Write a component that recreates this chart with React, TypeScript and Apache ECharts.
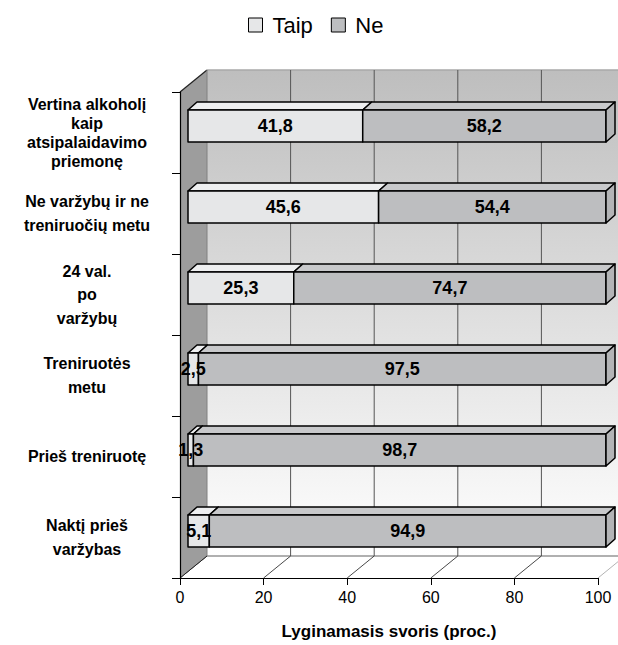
import React, { useEffect, useRef } from 'react';
import * as echarts from 'echarts';

const categories = [
  'Vertina alkoholį\nkaip\natsipalaidavimo\npriemonę',
  'Ne varžybų ir ne\ntreniruočių metu',
  '24 val.\npo\nvaržybų',
  'Treniruotės\nmetu',
  'Prieš treniruotę',
  'Naktį prieš\nvaržybas',
];
const taip = [41.8, 45.6, 25.3, 2.5, 1.3, 5.1];
const ne = [58.2, 54.4, 74.7, 97.5, 98.7, 94.9];
const xTicks = [0, 20, 40, 60, 80, 100];
const seriesNames = ['Taip', 'Ne'];
const axisTitle = 'Lyginamasis svoris (proc.)';

const FONT = '"Liberation Sans", Arial, sans-serif';
// 3D geometry (styling only)
const WDX = 27, WDY = 22; // wall depth
const BX = 8, BY = -6.5, BH = 32; // bar front face offset & height
const BDX = 9, BDY = 8; // bar depth

const colTaip = { front: '#e6e7e8', top: '#eeeff0', side: '#d8d9da' };
const colNe = { front: '#bdbec0', top: '#c8c9cb', side: '#b3b4b6' };

const fmt = (v: number) => v.toFixed(1).replace('.', ',');

function barRender(colors: any) {
  return (params: any, api: any) => {
    const cat = api.value(0);
    const s = api.value(1);
    const e = api.value(2);
    const val = api.value(3);
    const p0 = api.coord([s, cat]);
    const p1 = api.coord([e, cat]);
    const x0 = p0[0] + BX;
    const x1 = p1[0] + BX;
    const yc = p0[1] + BY;
    const yT = yc - BH / 2;
    const yB = yc + BH / 2;
    const stroke = { stroke: '#000', lineWidth: 1.5, lineJoin: 'round' };
    const children: any[] = [
      {
        type: 'polygon',
        shape: { points: [[x0, yT], [x0 + BDX, yT - BDY], [x1 + BDX, yT - BDY], [x1, yT]] },
        style: { fill: colors.top, ...stroke },
      },
      {
        type: 'rect',
        shape: { x: x0, y: yT, width: x1 - x0, height: BH },
        style: { fill: colors.front, ...stroke },
      },
    ];
    if (e >= 99.95) {
      children.push({
        type: 'polygon',
        shape: { points: [[x1, yT], [x1 + BDX, yT - BDY], [x1 + BDX, yB - BDY], [x1, yB]] },
        style: { fill: colors.side, ...stroke },
      });
    }
    children.push({
      type: 'text',
      z2: 100,
      x: (x0 + x1) / 2,
      y: yc,
      style: {
        text: fmt(val),
        fill: '#000',
        font: `bold 18px ${FONT}`,
        align: 'center',
        verticalAlign: 'middle',
      },
    });
    return { type: 'group', children };
  };
}

function frameRender(params: any, api: any) {
  if (params.dataIndex !== 0) return null;
  const n = categories.length;
  const pA = api.coord([xTicks[0], 0]);
  const pB = api.coord([xTicks[xTicks.length - 1], n - 1]);
  const band = api.size([0, 1])[1];
  const xL = pA[0];
  const xR = pB[0];
  const top = pA[1] - band / 2;
  const bottom = pB[1] + band / 2;
  const children: any[] = [];
  // back wall
  children.push({
    type: 'rect',
    shape: { x: xL + WDX, y: top - WDY, width: xR - xL + 40, height: bottom - top },
    style: {
      fill: new echarts.graphic.LinearGradient(0, 0, 0, 1, [
        { offset: 0, color: '#bebebe' },
        { offset: 1, color: '#ffffff' },
      ]),
    },
  });
  children.push({
    type: 'line',
    shape: { x1: xL + WDX, y1: top - WDY, x2: xR + WDX + 40, y2: top - WDY },
    style: { stroke: '#a8a8a8', lineWidth: 1.5 },
  });
  // floor
  children.push({
    type: 'polygon',
    shape: { points: [[xL, bottom], [xL + WDX, bottom - WDY], [xR + WDX + 40, bottom - WDY], [xR + 40, bottom]] },
    style: { fill: '#ffffff' },
  });
  children.push({
    type: 'line',
    shape: { x1: xL + WDX, y1: bottom - WDY, x2: xR + WDX + 40, y2: bottom - WDY },
    style: { stroke: '#b0b0b0', lineWidth: 2 },
  });
  xTicks.forEach((v) => {
    const x = api.coord([v, 0])[0];
    if (v !== xTicks[0]) {
      children.push({
        type: 'line',
        shape: { x1: x + WDX, y1: top - WDY, x2: x + WDX, y2: bottom - WDY },
        style: { stroke: '#555', lineWidth: 1 },
      });
    }
    children.push({
      type: 'line',
      shape: { x1: x, y1: bottom, x2: x + WDX, y2: bottom - WDY },
      style: { stroke: v === xTicks[xTicks.length - 1] ? '#aaa' : '#333', lineWidth: 0.9 },
    });
  });
  // left wall
  children.push({
    type: 'polygon',
    shape: { points: [[xL, top], [xL + WDX, top - WDY], [xL + WDX, bottom - WDY], [xL, bottom]] },
    style: { fill: '#9d9d9d' },
  });
  children.push({
    type: 'line',
    shape: { x1: xL, y1: top, x2: xL + WDX, y2: top - WDY },
    style: { stroke: '#222', lineWidth: 1.2 },
  });
  children.push({
    type: 'line',
    shape: { x1: xL + WDX, y1: top - WDY, x2: xL + WDX, y2: bottom - WDY },
    style: { stroke: '#808080', lineWidth: 1 },
  });
  children.push({
    type: 'line',
    shape: { x1: xL, y1: bottom, x2: xL + WDX, y2: bottom - WDY },
    style: { stroke: '#222', lineWidth: 1 },
  });
  return { type: 'group', children };
}

export default function App() {
  const ref = useRef<HTMLDivElement>(null);
  useEffect(() => {
    document.body.style.margin = '0';
    const chart = echarts.init(ref.current!, null, { renderer: 'svg' });
    const taipData = categories.map((_, i) => [i, 0, taip[i], taip[i]]);
    const neData = categories.map((_, i) => [i, taip[i], taip[i] + ne[i], ne[i]]);
    chart.setOption({
      animation: false,
      backgroundColor: '#ffffff',
      legend: {
        left: 248,
        top: 14,
        padding: 0,
        icon: 'rect',
        itemWidth: 14,
        itemHeight: 14,
        itemGap: 18,
        textStyle: { fontSize: 22, fontFamily: FONT, color: '#000', padding: [0, 0, 0, 5] },
        data: [
          { name: seriesNames[0], itemStyle: { color: colTaip.front, borderColor: '#000', borderWidth: 1 } },
          { name: seriesNames[1], itemStyle: { color: colNe.front, borderColor: '#000', borderWidth: 1 } },
        ],
      },
      grid: { left: 180, right: 20, top: 92, bottom: 67 },
      xAxis: {
        type: 'value',
        min: 0,
        max: 100,
        interval: 20,
        z: 5,
        axisLine: { show: true, lineStyle: { color: '#000', width: 1.2 } },
        axisTick: { show: true, length: 7, lineStyle: { color: '#000' } },
        splitLine: { show: false },
        axisLabel: { fontSize: 16, color: '#000', fontFamily: FONT, margin: 11 },
        name: axisTitle,
        nameLocation: 'middle',
        nameGap: 45,
        nameTextStyle: { fontSize: 17, fontWeight: 'bold', color: '#000', fontFamily: FONT },
      },
      yAxis: {
        type: 'category',
        inverse: true,
        data: categories,
        z: 5,
        axisLine: { show: true, lineStyle: { color: '#000', width: 1.2 } },
        axisTick: { show: true, length: 8, lineStyle: { color: '#000' } },
        axisLabel: {
          align: 'center',
          margin: 93,
          color: '#000',
          fontSize: 16,
          fontWeight: 'bold',
          fontFamily: FONT,
          lineHeight: 23.5,
          formatter: (v: string, i: number) => (i === 0 ? `{a|${v}}` : v),
          rich: {
            a: { fontSize: 16, fontWeight: 'bold', fontFamily: FONT, lineHeight: 19, color: '#000', align: 'center' },
          },
        },
      },
      series: [
        {
          type: 'custom',
          name: 'frame',
          z: 1,
          silent: true,
          renderItem: frameRender,
          encode: { x: [1, 2], y: 0 },
          data: [[0, 0, 100, 0]],
        },
        {
          type: 'custom',
          name: seriesNames[0],
          z: 3,
          itemStyle: { color: colTaip.front },
          renderItem: barRender(colTaip),
          encode: { x: [1, 2], y: 0 },
          data: taipData,
        },
        {
          type: 'custom',
          name: seriesNames[1],
          z: 3,
          itemStyle: { color: colNe.front },
          renderItem: barRender(colNe),
          encode: { x: [1, 2], y: 0 },
          data: neData,
        },
      ],
    });
    return () => chart.dispose();
  }, []);
  return <div ref={ref} style={{ width: 618, height: 645 }} />;
}
